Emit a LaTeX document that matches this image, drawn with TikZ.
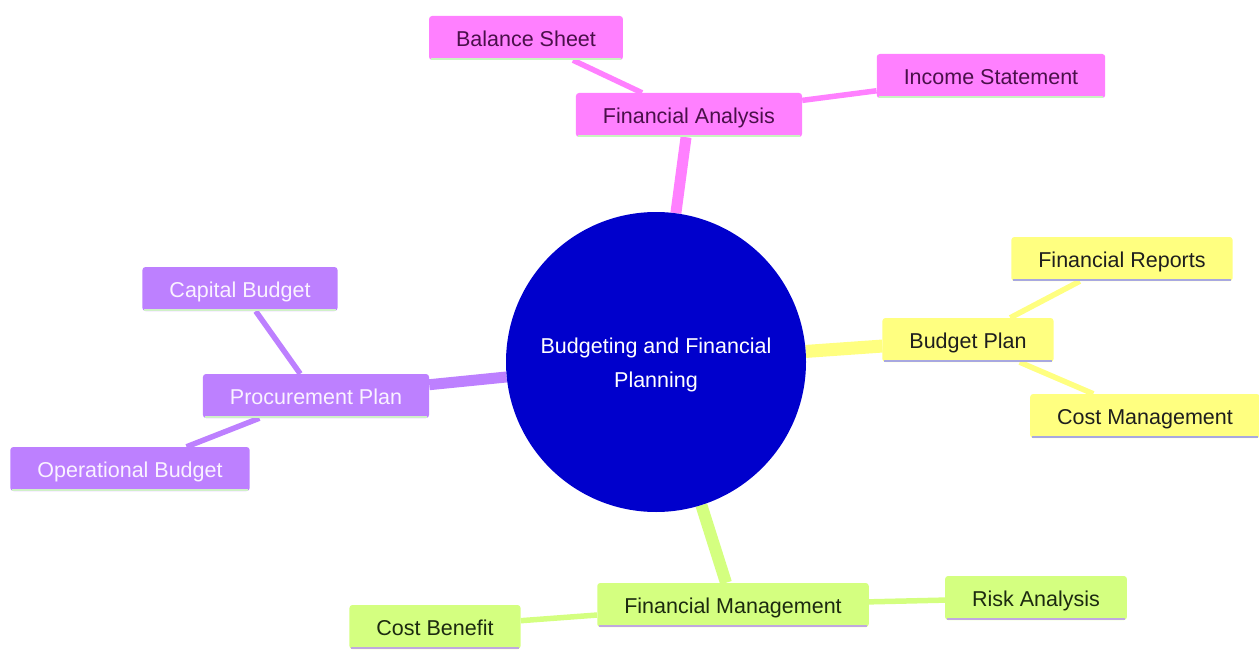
\documentclass[tikz,border=0pt]{standalone}
\usepackage{fontspec}
\setmainfont{Liberation Sans}
\usetikzlibrary{backgrounds}
\definecolor{pinkf}{HTML}{FF80FF}
\definecolor{pinkt}{HTML}{4A104A}
\definecolor{pinkb}{HTML}{C8F5C0}
\definecolor{yelf}{HTML}{FFFF80}
\definecolor{yelt}{HTML}{1E1E1E}
\definecolor{yelb}{HTML}{A8A8E0}
\definecolor{purf}{HTML}{BD80FF}
\definecolor{purt}{HTML}{FAF2FF}
\definecolor{purb}{HTML}{D0F0C8}
\definecolor{grnf}{HTML}{D4FF80}
\definecolor{grnt}{HTML}{1C2A10}
\definecolor{grnb}{HTML}{C0A8E0}
\definecolor{rootf}{HTML}{0000CC}
\tikzset{
  mm/.style={rectangle, rounded corners=3pt, minimum height=44pt, inner xsep=27pt,
    text height=19pt, text depth=2pt,
    font=\fontsize{21.5}{24}\selectfont},
  pinkbox/.style={mm, fill=pinkf, text=pinkt},
  yelbox/.style={mm, fill=yelf, text=yelt},
  purbox/.style={mm, fill=purf, text=purt},
  grnbox/.style={mm, fill=grnf, text=grnt},
  mainedge/.style={line width=11pt},
  subedge/.style={line width=5.5pt},
}
\begin{document}
\begin{tikzpicture}[x=1pt,y=-1pt]
\useasboundingbox (0,0) rectangle (1259,650);
% root
\node[circle, fill=rootf, minimum size=300pt, inner sep=0pt,
  label={[text=white, align=center, yshift=-3pt, font=\fontsize{21.5}{34}\selectfont]center:Budgeting and Financial\\Planning}] (root) at (656,362) {};
% pink branch
\node[pinkbox] (fa) at (689,115) {Financial Analysis};
\node[pinkbox] (bs) at (526,38) {Balance Sheet};
\node[pinkbox] (is) at (991,76) {Income Statement};
% yellow branch
\node[yelbox] (bp) at (968,340) {Budget Plan};
\node[yelbox] (fr) at (1122,259) {Financial Reports};
\node[yelbox] (cm) at (1145,416) {Cost Management};
% purple branch
\node[purbox] (pp) at (316,396) {Procurement Plan};
\node[purbox] (cb) at (240,289) {Capital Budget};
\node[purbox] (ob) at (130,469) {Operational Budget};
% green branch
\node[grnbox] (fm) at (733,605) {Financial Management};
\node[grnbox] (ra) at (1036,598) {Risk Analysis};
\node[grnbox] (cbf) at (435,627) {Cost Benefit};
% bottom borders
\foreach \n/\c in {fa/pinkb,bs/pinkb,is/pinkb,bp/yelb,fr/yelb,cm/yelb,pp/purb,cb/purb,ob/purb,fm/grnb,ra/grnb,cbf/grnb}{
  \draw[\c, line width=2.5pt] ([xshift=2pt,yshift=1.25pt]\n.south west) -- ([xshift=-2pt,yshift=1.25pt]\n.south east);
}
\begin{pgfonlayer}{background}
\draw[pinkf, mainedge] (root) -- (fa);
\draw[pinkf, subedge] (fa) -- (bs);
\draw[pinkf, subedge] (fa) -- (is);
\draw[yelf, mainedge, line width=13pt] (root) -- (bp);
\draw[yelf, subedge] (bp) -- (fr);
\draw[yelf, subedge] (bp) -- (cm);
\draw[purf, mainedge] (root) -- (pp);
\draw[purf, subedge] (pp) -- (cb);
\draw[purf, subedge] (pp) -- (ob);
\draw[grnf, mainedge, line width=12pt] (root) -- (fm);
\draw[grnf, subedge] (fm) -- (ra);
\draw[grnf, subedge] (fm) -- (cbf);
\end{pgfonlayer}
\end{tikzpicture}
\end{document}
